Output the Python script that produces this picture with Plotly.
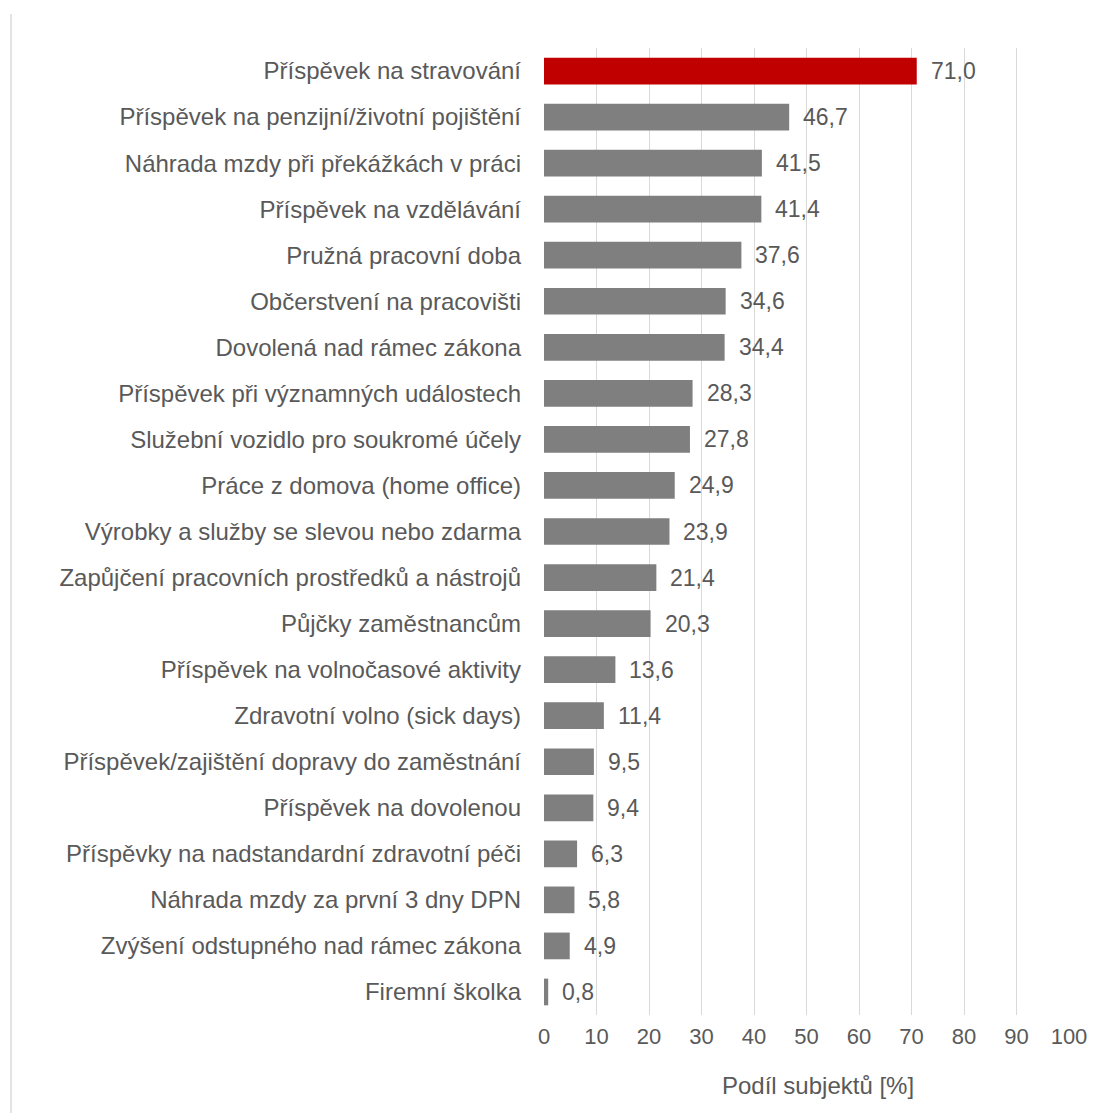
import plotly.graph_objects as go

categories = [
    "Příspěvek na stravování",
    "Příspěvek na penzijní/životní pojištění",
    "Náhrada mzdy při překážkách v práci",
    "Příspěvek na vzdělávání",
    "Pružná pracovní doba",
    "Občerstvení na pracovišti",
    "Dovolená nad rámec zákona",
    "Příspěvek při významných událostech",
    "Služební vozidlo pro soukromé účely",
    "Práce z domova (home office)",
    "Výrobky a služby se slevou nebo zdarma",
    "Zapůjčení pracovních prostředků a nástrojů",
    "Půjčky zaměstnancům",
    "Příspěvek na volnočasové aktivity",
    "Zdravotní volno (sick days)",
    "Příspěvek/zajištění dopravy do zaměstnání",
    "Příspěvek na dovolenou",
    "Příspěvky na nadstandardní zdravotní péči",
    "Náhrada mzdy za první 3 dny DPN",
    "Zvýšení odstupného nad rámec zákona",
    "Firemní školka",
]
values = [71.0, 46.7, 41.5, 41.4, 37.6, 34.6, 34.4, 28.3, 27.8, 24.9, 23.9,
          21.4, 20.3, 13.6, 11.4, 9.5, 9.4, 6.3, 5.8, 4.9, 0.8]
x_ticks = list(range(0, 101, 10))
x_title = "Podíl subjektů [%]"

colors = ["#c00000"] + ["#7f7f7f"] * (len(values) - 1)

W, H = 1098, 1113
M_L, M_R, M_T, M_B = 544, 29, 48, 98
FONT = "Liberation Sans, Arial, sans-serif"
TEXT = "#595959"

fig = go.Figure(go.Bar(
    x=values,
    y=categories,
    orientation="h",
    marker=dict(color=colors, line=dict(width=0)),
    hoverinfo="x+y",
))

# value labels to the right of each bar
for cat, val in zip(categories, values):
    fig.add_annotation(
        x=val, y=cat, xref="x", yref="y",
        text=f"{val:.1f}".replace(".", ","),
        showarrow=False, xanchor="left", xshift=12,
        font=dict(family=FONT, size=23, color=TEXT),
    )

plot_w = W - M_L - M_R
plot_h = H - M_T - M_B

# x-axis title, placed below the tick labels
fig.add_annotation(
    text=x_title, xref="paper", yref="paper",
    x=(818 - M_L) / plot_w, y=-(1085 - (H - M_B)) / plot_h,
    xanchor="center", yanchor="middle", showarrow=False,
    font=dict(family=FONT, size=24, color=TEXT),
)

# thin frame line along the left edge of the page
fig.add_shape(
    type="line", xref="paper", yref="paper",
    x0=(11 - M_L) / plot_w, x1=(11 - M_L) / plot_w,
    y0=(H - M_B - 14) / plot_h, y1=(H - M_B - H) / plot_h,
    line=dict(color="#e3e3e3", width=2),
)

fig.update_layout(
    width=W, height=H,
    margin=dict(l=M_L, r=M_R, t=M_T, b=M_B),
    paper_bgcolor="white",
    plot_bgcolor="white",
    bargap=0.42,
    showlegend=False,
    font=dict(family=FONT, color=TEXT),
    xaxis=dict(
        range=[0, 100],
        tickvals=x_ticks,
        showgrid=True, gridcolor="#d9d9d9", gridwidth=1,
        zeroline=False, showline=False,
        tickfont=dict(size=22, color=TEXT),
        ticks="", ticklabelstandoff=6,
        automargin=False,
    ),
    yaxis=dict(
        autorange="reversed",
        showgrid=False, zeroline=False, showline=False,
        ticks="", ticklabelstandoff=22,
        tickfont=dict(size=24, color=TEXT),
        automargin=False,
    ),
)

fig.write_html("out.html")
